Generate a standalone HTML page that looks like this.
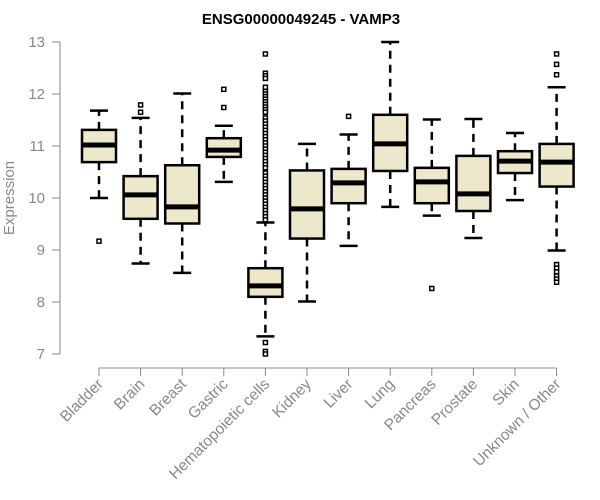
<!DOCTYPE html>
<html><head><meta charset="utf-8"><style>
body{margin:0;background:#fff}
svg{display:block;font-family:"Liberation Sans",Arial,sans-serif}
</style></head><body>
<svg id="chart" width="600" height="500">
<text x="301" y="24" text-anchor="middle" font-weight="bold" font-size="15">ENSG00000049245 - VAMP3</text>
<text transform="translate(14,198) rotate(-90)" text-anchor="middle" font-size="15" fill="#888">Expression</text>
<g id="g"></g>
</svg>
<script>
const categories=["Bladder","Brain","Breast","Gastric","Hematopoietic cells","Kidney","Liver","Lung","Pancreas","Prostate","Skin","Unknown / Other"];
const whiskerLow=[10.0,8.74,8.56,10.31,7.34,8.01,9.08,9.83,9.66,9.23,9.96,8.99];
const q1=[10.69,9.6,9.51,10.79,8.10,9.22,9.9,10.52,9.9,9.75,10.48,10.22];
const medians=[11.02,10.06,9.83,10.92,8.31,9.79,10.29,11.04,10.31,10.08,10.71,10.69];
const q3=[11.31,10.42,10.63,11.15,8.65,10.53,10.56,11.6,10.58,10.81,10.9,11.04];
const whiskerHigh=[11.68,11.54,12.01,11.39,9.53,11.04,11.22,13.0,11.51,11.52,11.25,12.13];
const outliers=[[9.17],[11.79,11.65],[],[12.09,11.74],
[12.77,12.4,12.35,12.3,12.13,12.05,12.0,11.95,11.9,11.85,11.8,11.75,11.7,11.65,11.54,11.48,11.42,11.36,11.3,11.24,11.18,11.12,11.06,11.0,10.94,10.88,10.82,10.76,10.7,10.64,10.58,10.48,10.42,10.36,10.3,10.24,10.18,10.12,10.06,10.0,9.94,9.88,9.82,9.76,9.7,9.64,9.58,7.22,7.05,7.0],
[],[11.57],[],[8.26],[],[],[12.77,12.57,12.37,8.72,8.65,8.58,8.5,8.44,8.38]];
const yTicks=[7,8,9,10,11,12,13];
const g=document.getElementById('g');
const NS="http://www.w3.org/2000/svg";
const y=v=>42+(13-v)*52;
const x=i=>99+i*41.6;
function mk(t,a){const e=document.createElementNS(NS,t);for(const k in a)e.setAttribute(k,a[k]);g.appendChild(e);return e;}
let e=mk('line',{x1:60,x2:60,y1:y(13),y2:y(7),stroke:'#888','stroke-width':1});


yTicks.forEach(t=>{
 let l=mk('line',{x1:52,x2:60,y1:y(t),y2:y(t),stroke:'#888'});
 
 
 let tx=mk('text',{x:45,y:y(t)+5,'text-anchor':'end','font-size':15,fill:'#888'});
 tx.textContent=t;
 
 
});
e=mk('line',{x1:x(0),x2:x(11),y1:368,y2:368,stroke:'#888'});


categories.forEach((c,i)=>{
 const cx=x(i),hw=17;
 let t=mk('line',{x1:cx,x2:cx,y1:368,y2:376,stroke:'#888'});
 
 
 let lb=mk('text',{transform:`translate(${cx+5},${385}) rotate(-45)`,'text-anchor':'end','font-size':15.5,fill:'#888'});
 lb.textContent=c;
 
 
 let w1=mk('line',{x1:cx,x2:cx,y1:y(q3[i]),y2:y(whiskerHigh[i]),stroke:'#000','stroke-width':2.5,'stroke-dasharray':'8,6'});
 
 
 let w2=mk('line',{x1:cx,x2:cx,y1:y(q1[i]),y2:y(whiskerLow[i]),stroke:'#000','stroke-width':2.5,'stroke-dasharray':'8,6'});
 
 
 [whiskerHigh[i],whiskerLow[i]].forEach(v=>{
  let c2=mk('line',{x1:cx-9,x2:cx+9,y1:y(v),y2:y(v),stroke:'#000','stroke-width':2.5});
  
  
 });
 let b=mk('rect',{x:cx-hw,y:y(q3[i]),width:2*hw,height:y(q1[i])-y(q3[i]),fill:'#ede8cc',stroke:'#000','stroke-width':2.5});
 
 
 let m=mk('line',{x1:cx-hw,x2:cx+hw,y1:y(medians[i]),y2:y(medians[i]),stroke:'#000','stroke-width':5});
 
 
 outliers[i].forEach(v=>{
  let o=mk('rect',{x:cx-2,y:y(v)-2,width:4,height:4,fill:'#fff',stroke:'#000','stroke-width':1.5});
  
  
 });
});
</script>
</body></html>
